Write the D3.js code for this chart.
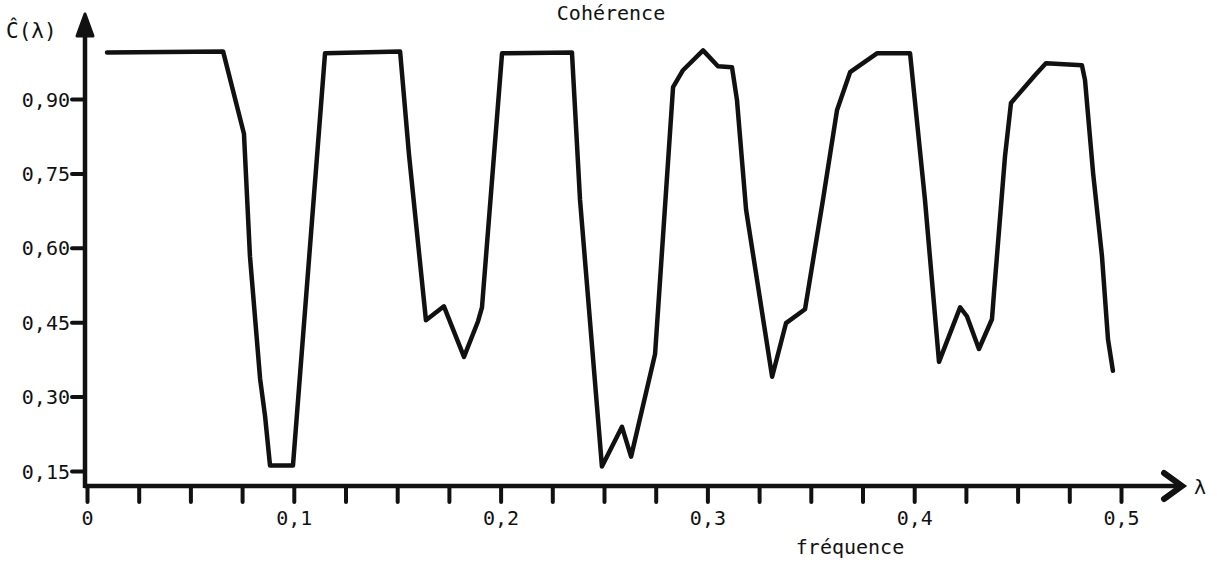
<!DOCTYPE html>
<html>
<head>
<meta charset="utf-8">
<script src="https://cdn.jsdelivr.net/npm/d3@7"></script>
<style>
  html, body { margin: 0; padding: 0; background: #fff; }
  svg { display: block; }
  text { font-family: "DejaVu Sans Mono", "Liberation Mono", monospace; fill: #111; }
</style>
</head>
<body>
<svg id="chart" width="1217" height="563"></svg>
<script>
// ---- data ----
const frequency = [0.0097, 0.0658, 0.0759, 0.0788, 0.0837, 0.0861, 0.0885, 0.0996, 0.1151, 0.1514,
  0.1557, 0.1639, 0.1726, 0.1823, 0.1891, 0.1910, 0.2007, 0.2345, 0.2384, 0.2490,
  0.2587, 0.2631, 0.2747, 0.2834, 0.2882, 0.2979, 0.3051, 0.3119, 0.3143, 0.3187,
  0.3313, 0.3380, 0.3472, 0.3559, 0.3627, 0.3690, 0.3820, 0.3980, 0.4052, 0.4120,
  0.4222, 0.4255, 0.4313, 0.4376, 0.4386, 0.4439, 0.4468, 0.4584, 0.4637, 0.4811,
  0.4826, 0.4865, 0.4908, 0.4937, 0.4961];
const coherence = [0.994, 0.996, 0.830, 0.583, 0.336, 0.261, 0.161, 0.161, 0.992, 0.996,
  0.788, 0.454, 0.482, 0.380, 0.452, 0.480, 0.992, 0.994, 0.697, 0.159,
  0.239, 0.179, 0.386, 0.924, 0.958, 0.998, 0.966, 0.964, 0.898, 0.677,
  0.340, 0.448, 0.476, 0.697, 0.878, 0.954, 0.992, 0.992, 0.697, 0.370,
  0.480, 0.462, 0.396, 0.456, 0.510, 0.784, 0.892, 0.948, 0.972, 0.968,
  0.938, 0.751, 0.583, 0.416, 0.352];

const xTickValues = [0, 0.025, 0.05, 0.075, 0.1, 0.125, 0.15, 0.175, 0.2, 0.225, 0.25,
  0.275, 0.3, 0.325, 0.35, 0.375, 0.4, 0.425, 0.45, 0.475, 0.5];
const xLabelValues = [0, 0.1, 0.2, 0.3, 0.4, 0.5];
const xLabels = ["0", "0,1", "0,2", "0,3", "0,4", "0,5"];
const yTickValues = [0.15, 0.30, 0.45, 0.60, 0.75, 0.90];
const yLabels = ["0,15", "0,30", "0,45", "0,60", "0,75", "0,90"];

const title = "Cohérence";
const yTitle = "Ĉ(λ)";
const xTitle = "fréquence";
const xSymbol = "λ";

// ---- scales ----
const svg = d3.select("#chart");
const x = d3.scaleLinear().domain([0, 0.5]).range([87, 1121]);
const y = d3.scaleLinear().domain([0.15, 0.90]).range([471, 99]);
const axisY = 486;      // pixel row of the horizontal axis
const axisX = 85;       // pixel column of the vertical axis
const ink = "#111";

// ---- x axis ticks ----
const xAxis = d3.axisBottom(x)
  .tickValues(xTickValues)
  .tickSize(16)
  .tickFormat(d => {
    const i = xLabelValues.findIndex(v => Math.abs(v - d) < 1e-9);
    return i >= 0 ? xLabels[i] : "";
  });
const gx = svg.append("g").attr("transform", `translate(0,${axisY})`).call(xAxis);
gx.select(".domain").remove();
gx.selectAll(".tick line").attr("stroke", ink).attr("stroke-width", 4).attr("stroke-linecap", "round");
gx.selectAll(".tick text").attr("y", 39).attr("dy", null).attr("font-size", 20).attr("fill", ink)
  .style("font-family", "'DejaVu Sans Mono', monospace");

// ---- y axis ticks ----
const yAxis = d3.axisLeft(y)
  .tickValues(yTickValues)
  .tickSize(13)
  .tickPadding(2)
  .tickFormat((d, i) => yLabels[i]);
const gy = svg.append("g").attr("transform", `translate(${axisX},0)`).call(yAxis);
gy.select(".domain").remove();
gy.selectAll(".tick line").attr("stroke", ink).attr("stroke-width", 4).attr("stroke-linecap", "round");
gy.selectAll(".tick text").attr("dy", "0.35em").attr("font-size", 20).attr("fill", ink)
  .style("font-family", "'DejaVu Sans Mono', monospace");

// ---- axis lines with arrows ----
svg.append("line").attr("x1", axisX - 1).attr("y1", axisY).attr("x2", 1180).attr("y2", axisY)
  .attr("stroke", ink).attr("stroke-width", 4.5);
svg.append("path").attr("d", `M1164,${axisY - 13} L1182,${axisY} L1164,${axisY + 13}`)
  .attr("fill", "none").attr("stroke", ink).attr("stroke-width", 6)
  .attr("stroke-linejoin", "miter").attr("stroke-linecap", "round");

svg.append("line").attr("x1", axisX).attr("y1", axisY + 2).attr("x2", axisX).attr("y2", 22)
  .attr("stroke", ink).attr("stroke-width", 4.5);
svg.append("path").attr("d", `M${axisX - 8},36 L${axisX},14 L${axisX + 8},36 Z`)
  .attr("fill", ink).attr("stroke", ink).attr("stroke-width", 3).attr("stroke-linejoin", "round");

// ---- curve ----
const pts = frequency.map((f, i) => [f, coherence[i]]);
const line = d3.line().x(d => x(d[0])).y(d => y(d[1]));
svg.append("path").datum(pts).attr("d", line)
  .attr("fill", "none").attr("stroke", ink).attr("stroke-width", 4.5)
  .attr("stroke-linejoin", "round").attr("stroke-linecap", "round");

// ---- titles ----
svg.append("text").attr("x", 611).attr("y", 20).attr("text-anchor", "middle")
  .attr("font-size", 20).text(title);
svg.append("text").attr("x", 6).attr("y", 38).attr("font-size", 21).text(yTitle);
svg.append("text").attr("x", 850).attr("y", 554).attr("text-anchor", "middle")
  .attr("font-size", 20).text(xTitle);
svg.append("text").attr("x", 1194).attr("y", 494).attr("font-size", 20).text(xSymbol);
</script>
</body>
</html>
